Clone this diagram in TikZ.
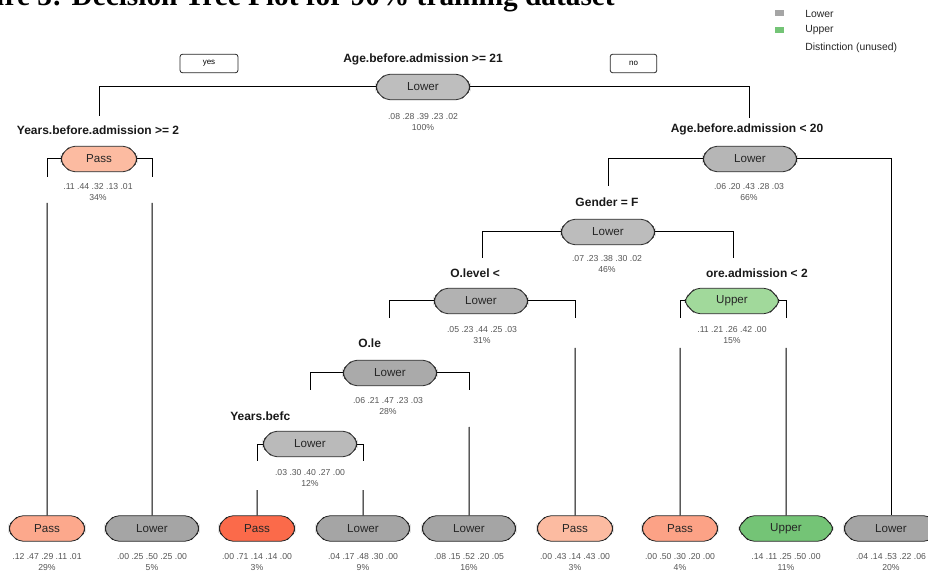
\documentclass[tikz,border=0pt]{standalone}
\usepackage{fontspec}
\setmainfont{Liberation Sans}
\newfontfamily\titlefont{Liberation Serif}
\usetikzlibrary{shapes.misc}
\definecolor{statcol}{RGB}{85,85,85}
\definecolor{cRoot}{RGB}{190,190,190}
\definecolor{cA}{RGB}{182,182,182}
\definecolor{cG}{RGB}{188,188,188}
\definecolor{cO}{RGB}{178,178,178}
\definecolor{cOl}{RGB}{170,170,170}
\definecolor{cYb}{RGB}{186,186,186}
\definecolor{cLow}{RGB}{165,165,165}
\definecolor{cPassL}{RGB}{252,187,161}
\definecolor{cP1}{RGB}{252,168,140}
\definecolor{cP3}{RGB}{251,106,74}
\definecolor{cP7}{RGB}{252,162,134}
\definecolor{cUpL}{RGB}{161,217,155}
\definecolor{cUp}{RGB}{116,196,118}
\begin{document}
\begin{tikzpicture}[x=0.75pt,y=-0.75pt,
  tnode/.style={chamfered rectangle, chamfered rectangle xsep=6pt, chamfered rectangle ysep=3.5pt, rounded corners=3.5pt, draw=black!85, line width=0.6pt, minimum height=19pt, inner sep=0pt, font=\fontsize{8.7}{10}\selectfont, text=black!85},
  widebox/.style={tnode, minimum width=70pt},
  narrowbox/.style={tnode, minimum width=56.5pt},
  splitlab/.style={font=\bfseries\fontsize{9}{10}\selectfont, text=black!90, inner sep=0pt},
  stat/.style={font=\fontsize{6.5}{8.3}\selectfont, text=statcol, inner sep=0pt, align=center},
  edge/.style={line width=0.75pt, black},
  yn/.style={draw=black!85, line width=0.6pt, rounded corners=2pt, minimum height=14pt, inner sep=0pt, font=\fontsize{6}{6}\selectfont},
  legtxt/.style={font=\fontsize{7.8}{9}\selectfont, anchor=west, inner sep=0pt, text=black!85},
  legkey/.style={minimum width=6.75pt, minimum height=4.5pt, inner sep=0pt}
]
\useasboundingbox (0,0) rectangle (928,573);
\clip (0,0) rectangle (928,573);

% title (cut off at top)
\node[anchor=base east, inner sep=0pt, font=\titlefont\bfseries\fontsize{22}{26}\selectfont] (title) at (615,6) {Figure 3: Decision Tree Plot for 90\% training dataset};

% legend
\node[legkey, fill=cLow] (kLower) at (779.5,13.5) {};
\node[legkey, fill=cUp] (kUpper) at (779.5,30.5) {};
\node[legtxt] (tLower) at (805,14) {Lower};
\node[legtxt] (tUpper) at (805,30.5) {Upper};
\node[legtxt] (tDist) at (805,47.5) {Distinction (unused)};

% coordinates for connector ends
\coordinate (a1) at (99,116);
\coordinate (a2) at (749,118);
\coordinate (b1) at (47,177);   \coordinate (b1s) at (47,203);
\coordinate (b2) at (152,177);  \coordinate (b2s) at (152,203);
\coordinate (c1) at (608,186);
\coordinate (d1) at (482,258);
\coordinate (d2) at (733,258);
\coordinate (e1) at (389,318);
\coordinate (e2) at (575,318);  \coordinate (e2s) at (575,348);
\coordinate (f1) at (680,318);  \coordinate (f1s) at (680,348);
\coordinate (f2) at (786,318);  \coordinate (f2s) at (786,348);
\coordinate (g1) at (310,390);
\coordinate (g2) at (469,390);  \coordinate (g2s) at (469,427);
\coordinate (h1) at (257,461);  \coordinate (h1s) at (257,490);
\coordinate (h2) at (363,461);  \coordinate (h2s) at (363,490);

% leaves
\node[narrowbox, fill=cP1] (L1) at (47,528.5) {Pass};
\node[widebox, fill=cLow] (L2) at (152,528.5) {Lower};
\node[narrowbox, fill=cP3] (L3) at (257,528.5) {Pass};
\node[widebox, fill=cLow] (L4) at (363,528.5) {Lower};
\node[widebox, fill=cLow] (L5) at (469,528.5) {Lower};
\node[narrowbox, fill=cPassL] (L6) at (575,528.5) {Pass};
\node[narrowbox, fill=cP7] (L7) at (680,528.5) {Pass};
\node[widebox, fill=cUp] (L8) at (786,528.5) {Upper};
\node[widebox, fill=cLow] (L9) at (891,528.5) {Lower};

% edges
\draw[edge] (423,87) -| (a1);
\draw[edge] (423,87) -| (a2);
\draw[edge] (99,159) -| (b1);  \draw[edge] (b1s) -- (L1);
\draw[edge] (99,159) -| (b2);  \draw[edge] (b2s) -- (L2);
\draw[edge] (750,159) -| (c1);
\draw[edge] (750,159) -| (L9);
\draw[edge] (608,232) -| (d1);
\draw[edge] (608,232) -| (d2);
\draw[edge] (481,301) -| (e1);
\draw[edge] (481,301) -| (e2); \draw[edge] (e2s) -- (L6);
\draw[edge] (732,301) -| (f1); \draw[edge] (f1s) -- (L7);
\draw[edge] (732,301) -| (f2); \draw[edge] (f2s) -- (L8);
\draw[edge] (390,373) -| (g1);
\draw[edge] (390,373) -| (g2); \draw[edge] (g2s) -- (L5);
\draw[edge] (310,444) -| (h1); \draw[edge] (h1s) -- (L3);
\draw[edge] (310,444) -| (h2); \draw[edge] (h2s) -- (L4);

% internal nodes
\node[widebox, fill=cRoot] (root) at (423,87) {Lower};
\node[narrowbox, fill=cPassL] (nY) at (99,159) {Pass};
\node[widebox, fill=cA] (nA) at (750,159) {Lower};
\node[widebox, fill=cG] (nG) at (608,232) {Lower};
\node[widebox, fill=cO] (nO) at (481,301) {Lower};
\node[widebox, fill=cUpL] (nU) at (732,301) {Upper};
\node[widebox, fill=cOl] (nOl) at (390,373) {Lower};
\node[widebox, fill=cYb] (nYb) at (310,444) {Lower};

% yes / no
\node[yn, minimum width=43.5pt] (yes) at (209,63.5) {yes};
\node[yn, minimum width=35pt] (no) at (633.5,63.5) {no};

% split labels
\node[splitlab] (lRoot) at (423,59) {Age.before.admission >= 21};
\node[splitlab] (lY) at (98,130) {Years.before.admission >= 2};
\node[splitlab] (lA) at (747,129) {Age.before.admission < 20};
\node[splitlab] (lG) at (607,202) {Gender = F};
\node[splitlab, anchor=west] (lO) at (450,273) {O.level <};
\node[splitlab, anchor=east] (lU) at (808,273) {ore.admission < 2};
\node[splitlab, anchor=west] (lOl) at (358,343) {O.le};
\node[splitlab, anchor=west] (lYb) at (230,416) {Years.befc};

% stats
\node[stat] (sRoot) at (423,122) {.08 .28 .39 .23 .02\\100\%};
\node[stat] (sY) at (98,192) {.11 .44 .32 .13 .01\\34\%};
\node[stat] (sA) at (749,192) {.06 .20 .43 .28 .03\\66\%};
\node[stat] (sG) at (607,264) {.07 .23 .38 .30 .02\\46\%};
\node[stat] (sO) at (482,335) {.05 .23 .44 .25 .03\\31\%};
\node[stat] (sU) at (732,335) {.11 .21 .26 .42 .00\\15\%};
\node[stat] (sOl) at (388,406) {.06 .21 .47 .23 .03\\28\%};
\node[stat] (sYb) at (310,478) {.03 .30 .40 .27 .00\\12\%};
\node[stat] (s1) at (47,562) {.12 .47 .29 .11 .01\\29\%};
\node[stat] (s2) at (152,562) {.00 .25 .50 .25 .00\\5\%};
\node[stat] (s3) at (257,562) {.00 .71 .14 .14 .00\\3\%};
\node[stat] (s4) at (363,562) {.04 .17 .48 .30 .00\\9\%};
\node[stat] (s5) at (469,562) {.08 .15 .52 .20 .05\\16\%};
\node[stat] (s6) at (575,562) {.00 .43 .14 .43 .00\\3\%};
\node[stat] (s7) at (680,562) {.00 .50 .30 .20 .00\\4\%};
\node[stat] (s8) at (786,562) {.14 .11 .25 .50 .00\\11\%};
\node[stat] (s9) at (891,562) {.04 .14 .53 .22 .06\\20\%};
\end{tikzpicture}
\end{document}
